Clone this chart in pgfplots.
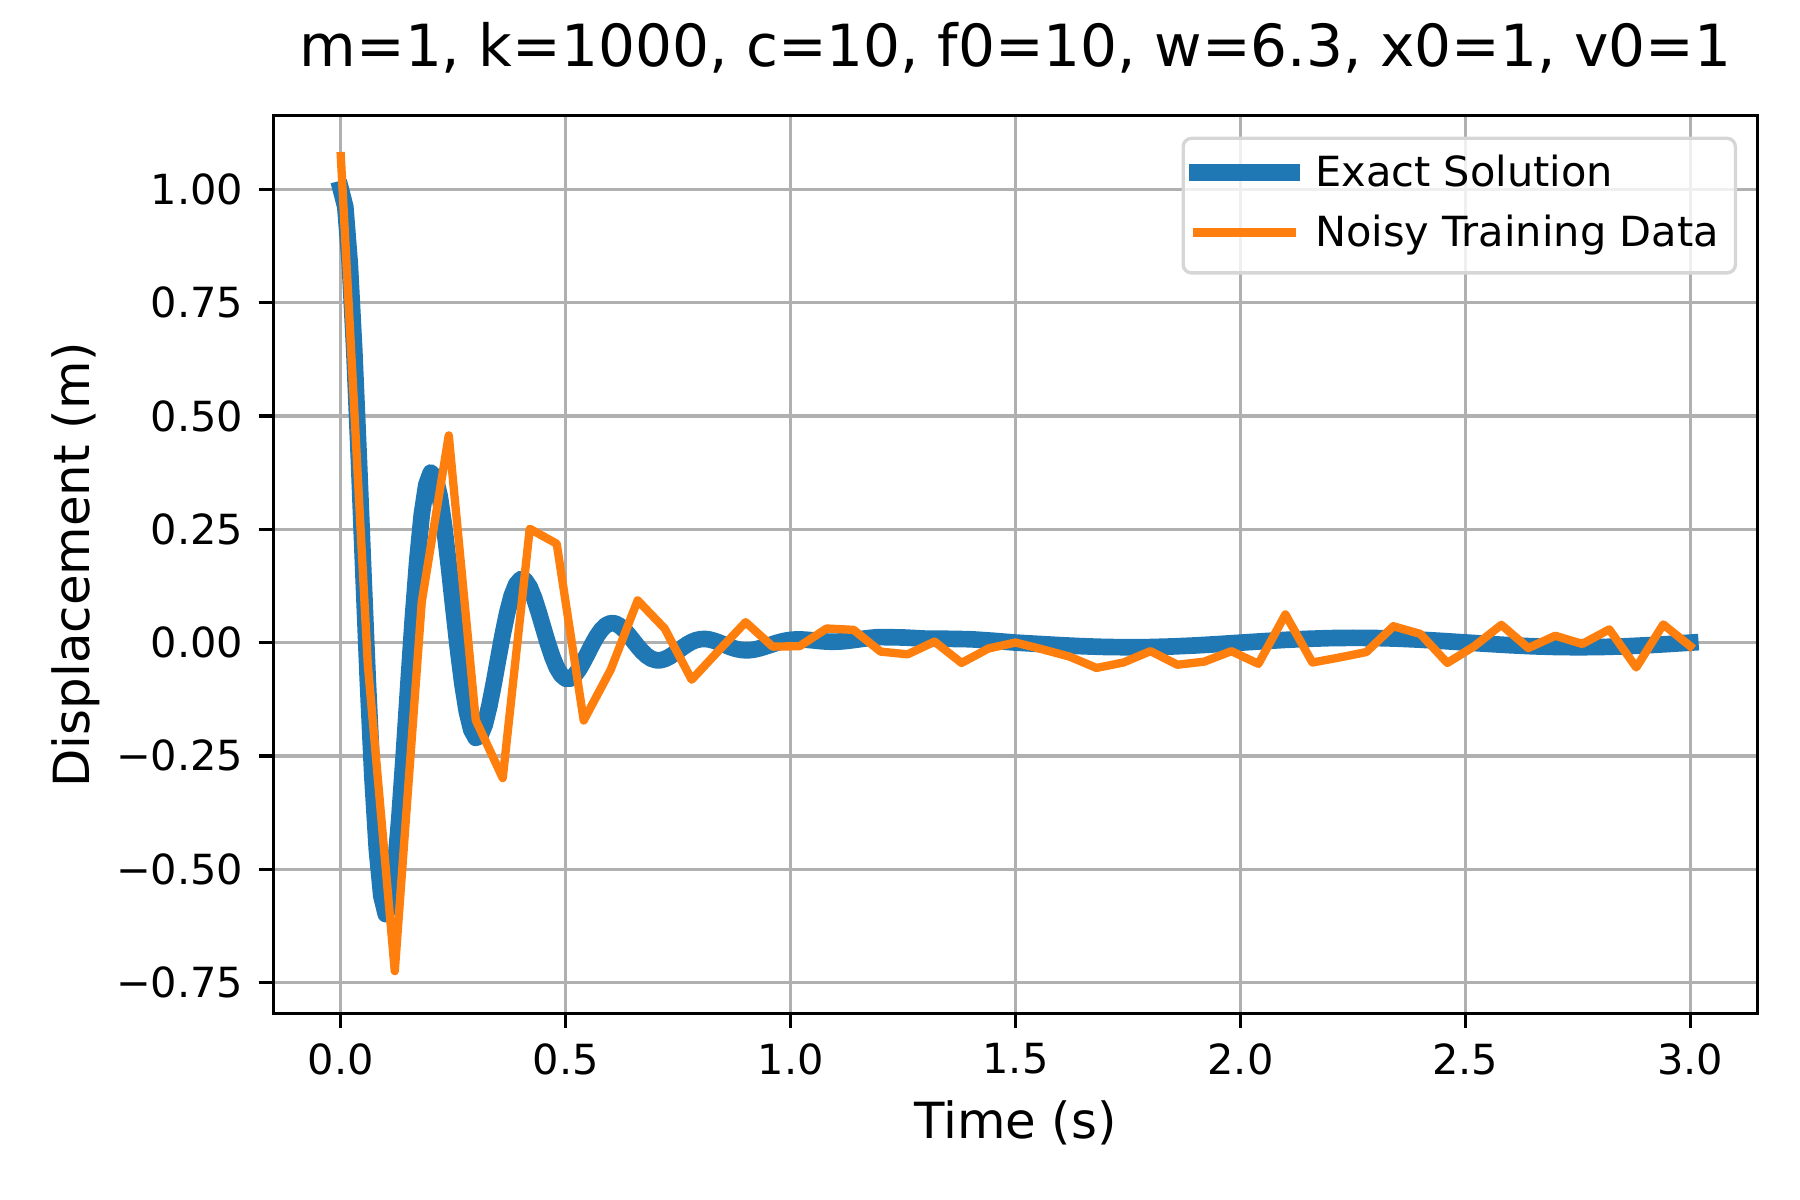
\documentclass[border=0pt]{standalone}
\usepackage{fontspec}
\setmainfont{DejaVu Sans}
\usepackage{pgfplots}
\pgfplotsset{compat=1.18}
\definecolor{mplblue}{HTML}{1F77B4}
\definecolor{mplorange}{HTML}{FF7F0E}
\definecolor{gridgray}{HTML}{B0B0B0}
\definecolor{legendedge}{HTML}{D6D6D6}
\pgfplotsset{legend image code/.code={\path (0bp,0.75bp) -- (20bp,0.75bp); \draw[#1, line cap=rect, overlay] (-2.7bp,0.75bp) -- (16.8bp,0.75bp);}}
\begin{document}
\begin{tikzpicture}
\path[use as bounding box] (-65.6bp,-44.8bp) rectangle (366.4bp,243.2bp);
\begin{axis}[
  at={(0,0)}, anchor=south west,
  scale only axis, width=356.25bp, height=215.4bp,
  xmin=-0.15, xmax=3.15, ymin=-0.818, ymax=1.162,
  xtick={0,0.5,1,1.5,2,2.5,3},
  xticklabels={0.0,0.5,1.0,1.5,2.0,2.5,3.0},
  ytick={-0.75,-0.5,-0.25,0,0.25,0.5,0.75,1},
  yticklabels={−0.75,−0.50,−0.25,0.00,0.25,0.50,0.75,1.00},
  tick align=outside, xtick pos=lower, ytick pos=lower,
  major tick length=3.5bp,
  every tick/.style={black, line width=0.8bp},
  axis line style={line width=0.8bp},
  grid=major, grid style={gridgray, line width=0.8bp},
  tick label style={font=\fontsize{10}{12}\selectfont},
  xticklabel style={anchor=north, inner sep=0pt, yshift=-3.5bp},
  yticklabel style={anchor=east, inner sep=0pt, xshift=-3.5bp},
  title={m=1, k=1000, c=10, f0=10, w=6.3, x0=1, v0=1},
  title style={at={(axis description cs:0.5,1.0269)}, anchor=base, inner sep=0pt, font=\fontsize{14}{16.8}\selectfont},
  xlabel={Time (s)}, ylabel={Displacement (m)},
  label style={font=\fontsize{12}{14.4}\selectfont},
  xlabel style={at={(axis description cs:0.5,-0.1393)}, anchor=base, inner sep=0pt},
  ylabel style={at={(axis description cs:-0.1238,0.5)}, anchor=base, inner sep=0pt},
  legend cell align=left,
  legend style={at={(axis description cs:1,1)}, anchor=north east, xshift=-4.95bp, yshift=-5bp,
    draw=legendedge, line width=0.8bp, fill=white, fill opacity=0.8, text opacity=1, draw opacity=1,
    rounded corners=2bp, inner xsep=4bp, inner ysep=4bp, row sep=4.5bp, column sep=3.7bp,
    font=\fontsize{10}{12}\selectfont,
    nodes={inner sep=0pt, text height=7.6bp, text depth=2.3bp, anchor=west}},
]
\addplot[mplblue, line width=4bp, line cap=rect, line join=round]
coordinates {
(0.00,1.0000)(0.01,0.9614)(0.02,0.8358)(0.03,0.6432)(0.04,0.4087)(0.05,0.1581)(0.06,-0.0833)(0.07,-0.2936)(0.08,-0.4557)(0.09,-0.5589)
(0.10,-0.5991)(0.11,-0.5783)(0.12,-0.5044)(0.13,-0.3892)(0.14,-0.2476)(0.15,-0.0953)(0.16,0.0522)(0.17,0.1815)(0.18,0.2823)(0.19,0.3477)
(0.20,0.3749)(0.21,0.3650)(0.22,0.3226)(0.23,0.2547)(0.24,0.1701)(0.25,0.0785)(0.26,-0.0109)(0.27,-0.0898)(0.28,-0.1518)(0.29,-0.1926)
(0.30,-0.2104)(0.31,-0.2058)(0.32,-0.1814)(0.33,-0.1413)(0.34,-0.0908)(0.35,-0.0358)(0.36,0.0181)(0.37,0.0659)(0.38,0.1036)(0.39,0.1286)
(0.40,0.1397)(0.41,0.1371)(0.42,0.1223)(0.43,0.0978)(0.44,0.0668)(0.45,0.0329)(0.46,-0.0007)(0.47,-0.0308)(0.48,-0.0549)(0.49,-0.0715)
(0.50,-0.0797)(0.51,-0.0796)(0.52,-0.0720)(0.53,-0.0585)(0.54,-0.0410)(0.55,-0.0215)(0.56,-0.0021)(0.57,0.0153)(0.58,0.0291)(0.59,0.0385)
(0.60,0.0428)(0.61,0.0421)(0.62,0.0368)(0.63,0.0280)(0.64,0.0166)(0.65,0.0041)(0.66,-0.0085)(0.67,-0.0198)(0.68,-0.0290)(0.69,-0.0355)
(0.70,-0.0389)(0.71,-0.0392)(0.72,-0.0365)(0.73,-0.0318)(0.74,-0.0254)(0.75,-0.0182)(0.76,-0.0108)(0.77,-0.0041)(0.78,0.0014)(0.79,0.0054)
(0.80,0.0075)(0.81,0.0079)(0.82,0.0066)(0.83,0.0039)(0.84,0.0003)(0.85,-0.0037)(0.86,-0.0078)(0.87,-0.0115)(0.88,-0.0144)(0.89,-0.0163)
(0.90,-0.0171)(0.91,-0.0168)(0.92,-0.0153)(0.93,-0.0130)(0.94,-0.0101)(0.95,-0.0069)(0.96,-0.0036)(0.97,-0.0004)(0.98,0.0023)(0.99,0.0044)
(1.00,0.0059)(1.01,0.0067)(1.02,0.0068)(1.03,0.0065)(1.04,0.0057)(1.05,0.0048)(1.06,0.0037)(1.07,0.0028)(1.08,0.0022)(1.09,0.0018)
(1.10,0.0019)(1.11,0.0023)(1.12,0.0031)(1.13,0.0042)(1.14,0.0054)(1.15,0.0068)(1.16,0.0082)(1.17,0.0095)(1.18,0.0106)(1.19,0.0115)
(1.20,0.0120)(1.25,0.0112)(1.30,0.0086)(1.35,0.0082)(1.40,0.0073)(1.45,0.0039)(1.50,-0.0001)(1.55,-0.0030)(1.60,-0.0058)(1.65,-0.0082)
(1.70,-0.0098)(1.75,-0.0104)(1.80,-0.0100)(1.85,-0.0086)(1.90,-0.0064)(1.95,-0.0035)(2.00,-0.0003)(2.05,0.0029)(2.10,0.0059)(2.15,0.0082)
(2.20,0.0098)(2.25,0.0104)(2.30,0.0100)(2.35,0.0086)(2.40,0.0063)(2.45,0.0034)(2.50,0.0002)(2.55,-0.0030)(2.60,-0.0059)(2.65,-0.0083)
(2.70,-0.0098)(2.75,-0.0104)(2.80,-0.0099)(2.85,-0.0085)(2.90,-0.0062)(2.95,-0.0034)(3.00,-0.0002)
};
\addlegendentry{Exact Solution}
\addplot[mplorange, line width=2bp, line cap=rect, line join=round]
coordinates {
(0.00,1.073)(0.06,-0.048)(0.12,-0.725)(0.18,0.090)(0.24,0.457)(0.30,-0.171)(0.36,-0.299)(0.42,0.251)(0.48,0.218)(0.54,-0.172)
(0.60,-0.060)(0.66,0.093)(0.72,0.031)(0.78,-0.082)(0.84,-0.018)(0.90,0.045)(0.96,-0.009)(1.02,-0.008)(1.08,0.031)(1.14,0.028)
(1.20,-0.020)(1.26,-0.026)(1.32,0.002)(1.38,-0.045)(1.44,-0.013)(1.50,0.000)(1.56,-0.015)(1.62,-0.031)(1.68,-0.056)(1.74,-0.044)
(1.80,-0.019)(1.86,-0.049)(1.92,-0.042)(1.98,-0.019)(2.04,-0.047)(2.10,0.062)(2.16,-0.044)(2.22,-0.033)(2.28,-0.021)(2.34,0.036)
(2.40,0.019)(2.46,-0.045)(2.52,-0.008)(2.58,0.039)(2.64,-0.012)(2.70,0.015)(2.76,-0.003)(2.82,0.029)(2.88,-0.055)(2.94,0.040)
(3.00,-0.008)
};
\addlegendentry{Noisy Training Data}
\end{axis}
\end{tikzpicture}
\end{document}
